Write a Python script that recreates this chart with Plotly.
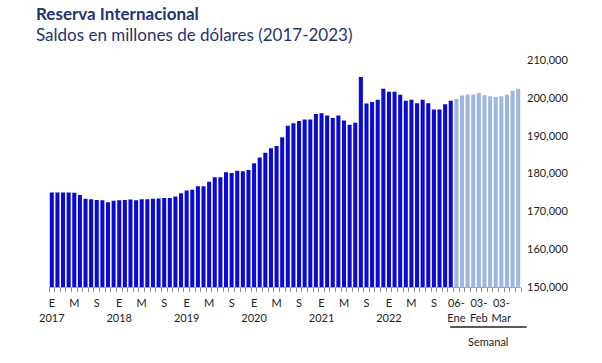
import plotly.graph_objects as go

# Monthly balances (millions USD), Jan 2017 - Dec 2022
y2017 = [175000, 175000, 175000, 175000, 174900, 174300, 173300, 173200, 173000, 172900, 172400, 172800]
y2018 = [172900, 173000, 173100, 172900, 173200, 173200, 173300, 173400, 173500, 173500, 173900, 174800]
y2019 = [175500, 175700, 176600, 176600, 177800, 179000, 179000, 180300, 180100, 180700, 180600, 180900]
y2020 = [182700, 184200, 185500, 186700, 187300, 189600, 192600, 193300, 193900, 194300, 194300, 195700]
y2021 = [195900, 195300, 194700, 195300, 194000, 192900, 193400, 205500, 198500, 198900, 199500, 202400]
y2022 = [201600, 201600, 200800, 199200, 199500, 198600, 199500, 198600, 196900, 196900, 198300, 199200]
# Weekly balances 2023
weeks = ["06-Ene", "13-Ene", "20-Ene", "27-Ene", "03-Feb", "10-Feb", "17-Feb", "24-Feb",
         "03-Mar", "10-Mar", "17-Mar", "24-Mar"]
y_weekly = [199700, 200600, 200900, 200900, 201300, 200700, 200400, 200200, 200400, 200800, 201900, 202400]

years = ["2017", "2018", "2019", "2020", "2021", "2022"]
month_letters = {0: "E", 4: "M", 8: "S"}
week_labels = {0: "06-<br>Ene", 4: "03-<br>Feb", 8: "03-<br>Mar"}

monthly = y2017 + y2018 + y2019 + y2020 + y2021 + y2022
n_m = len(monthly)
x_m = list(range(n_m))
x_w = list(range(n_m, n_m + len(y_weekly)))

tickvals, ticktext = [], []
for yi, yr in enumerate(years):
    for mi, letter in month_letters.items():
        tickvals.append(yi * 12 + mi)
        ticktext.append(letter + ("<br>" + yr if mi == 0 else ""))
for wi, lab in week_labels.items():
    tickvals.append(n_m + wi)
    ticktext.append(lab)

FONT = "Lato"
navy = "#1F3470"

fig = go.Figure()
fig.add_trace(go.Bar(x=x_m, y=monthly, marker=dict(color="#0A0AD2", line=dict(width=0)),
                     name="Mensual", hoverinfo="y"))
fig.add_trace(go.Bar(x=x_w, y=y_weekly, marker=dict(color="#9DB7E0", line=dict(width=0)),
                     name="Semanal", text=weeks, textposition="none", hoverinfo="text+y"))

fig.update_layout(
    width=602, height=363,
    margin=dict(l=49, r=81, t=60, b=76),
    paper_bgcolor="white", plot_bgcolor="white",
    showlegend=False, bargap=0.28, hovermode=False,
    font=dict(family=FONT, color="#222222"),
    xaxis=dict(range=[-0.5, n_m + len(y_weekly) - 0.5], tickvals=tickvals, ticktext=ticktext,
               showgrid=False, zeroline=False, showline=True, linecolor="#A6A6A6", linewidth=1,
               ticks="", ticklabelstandoff=6,
               tickfont=dict(size=11, color="#222222", family=FONT),
               minor=dict(ticks="outside", tick0=-0.5, dtick=1, ticklen=4, tickcolor="#8C8C8C",
                          showgrid=False)),
    yaxis=dict(range=[150000, 210000], side="right", dtick=10000, tickformat=",d",
               showgrid=False, zeroline=False, showline=False, ticks="", ticklabelstandoff=5,
               tickfont=dict(size=11, color="#222222", family=FONT)),
    annotations=[
        dict(text="<b>Reserva Internacional</b>", xref="paper", yref="paper",
             x=-0.031, y=1.2048, xanchor="left", yanchor="middle", showarrow=False,
             font=dict(size=17, color=navy, family=FONT)),
        dict(text="Saldos en millones de dólares (2017-2023)", xref="paper", yref="paper",
             x=-0.031, y=1.1145, xanchor="left", yanchor="middle", showarrow=False,
             font=dict(size=17, color=navy, family=FONT)),
        dict(text="Semanal", xref="paper", yref="paper", x=0.930, y=-0.238,
             xanchor="center", yanchor="middle", showarrow=False,
             font=dict(size=11, color="#222222", family=FONT)),
    ],
    shapes=[dict(type="line", xref="paper", yref="paper", x0=0.850, x1=1.012,
                 y0=-0.176, y1=-0.176, line=dict(color="#222222", width=1.5))],
)

fig.write_html("out.html", config={"displayModeBar": False},
               post_script="document.body.style.margin='0';document.body.style.overflow='hidden';")
